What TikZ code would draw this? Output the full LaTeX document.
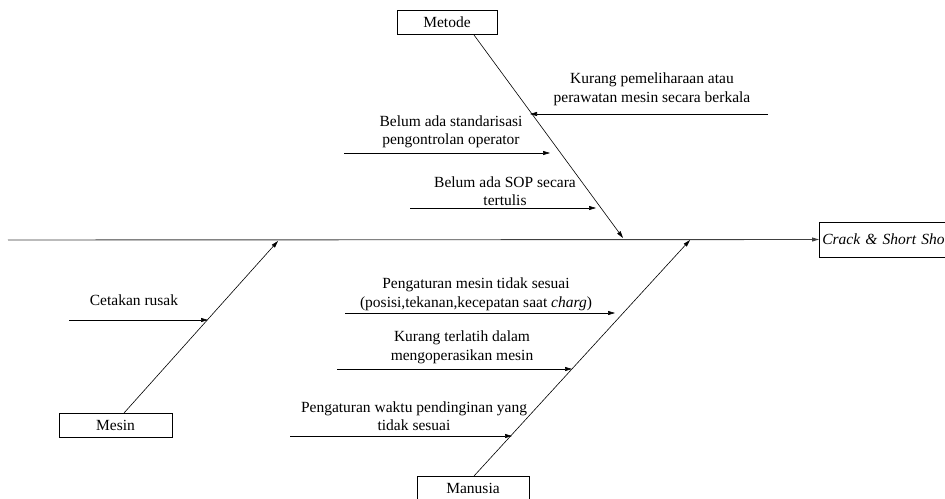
\documentclass[tikz,border=0pt]{standalone}
\usepackage{fontspec}
\setmainfont{Liberation Serif}
\usetikzlibrary{arrows.meta}
\begin{document}
\begin{tikzpicture}[x=1pt,y=-1pt,
  every node/.style={font=\fontsize{15.5}{18.5}\selectfont},
  catbox/.style={draw,line width=0.7pt,minimum height=24pt,inner sep=0pt},
  lbl/.style={align=center,inner sep=0pt},
  bone/.style={line width=0.6pt,-{Triangle[length=7pt,width=4pt]}},
  spine/.style={line width=0.9pt,draw=black!75,-{Triangle[length=7pt,width=4pt]}}]
\clip (0,0) rectangle (945,498);
\fill[white] (0,0) rectangle (945,498);
% category boxes
\node[catbox,minimum width=100pt] (metode) at (447,22) {Metode};
\node[catbox,minimum width=113pt] (mesin) at (115.5,425.5) {Mesin};
\node[catbox,minimum width=112pt,anchor=north] (manusia) at (473,476) {Manusia};
\node[catbox,minimum width=140pt,minimum height=35pt,anchor=west,font=\fontsize{15.5}{18.5}\selectfont\itshape,text width=134pt,align=left] (effect) at (819,239.5) {Crack \& Short Shot};
% spine
\coordinate (spl) at (8,240);
\draw[spine] (spl) -- (effect.west);
% main bones
\coordinate (metS) at (474,35);
\coordinate (metT) at (623,238);
\draw[bone] (metS) -- (metT);
\coordinate (mesS) at (124,413);
\coordinate (mesT) at (278,241);
\draw[bone] (mesS) -- (mesT);
\coordinate (manS) at (474,476);
\coordinate (manT) at (690,240);
\draw[bone] (manS) -- (manT);
% Metode causes
\coordinate (c1s) at (768,114); \coordinate (c1t) at (530,114);
\draw[bone] (c1s) -- (c1t);
\node[lbl] (t1) at (652,89.5) {Kurang pemeliharaan atau\\perawatan mesin secara berkala};
\coordinate (c2s) at (344,153); \coordinate (c2t) at (550,153);
\draw[bone] (c2s) -- (c2t);
\node[lbl] (t2) at (451,132) {Belum ada standarisasi\\pengontrolan operator};
\coordinate (c3s) at (410,208); \coordinate (c3t) at (596,208);
\draw[bone] (c3s) -- (c3t);
\node[lbl] (t3) at (505,191) {Belum ada SOP secara\\tertulis};
% Mesin cause
\coordinate (c4s) at (69,320); \coordinate (c4t) at (208,320);
\draw[bone] (c4s) -- (c4t);
\node[lbl] (t4) at (134,300) {Cetakan rusak};
% Manusia causes
\coordinate (c5s) at (345,313); \coordinate (c5t) at (615,313);
\draw[bone] (c5s) -- (c5t);
\node[lbl] (t5) at (476,294.5) {Pengaturan mesin tidak sesuai\\(posisi,tekanan,kecepatan saat \textit{charg})};
\coordinate (c6s) at (337,369); \coordinate (c6t) at (572,369);
\draw[bone] (c6s) -- (c6t);
\node[lbl] (t6) at (462,347.5) {Kurang terlatih dalam\\mengoperasikan mesin};
\coordinate (c7s) at (290,436); \coordinate (c7t) at (512,436);
\draw[bone] (c7s) -- (c7t);
\node[lbl] (t7) at (414,416) {Pengaturan waktu pendinginan yang\\tidak sesuai};
\end{tikzpicture}
\end{document}
